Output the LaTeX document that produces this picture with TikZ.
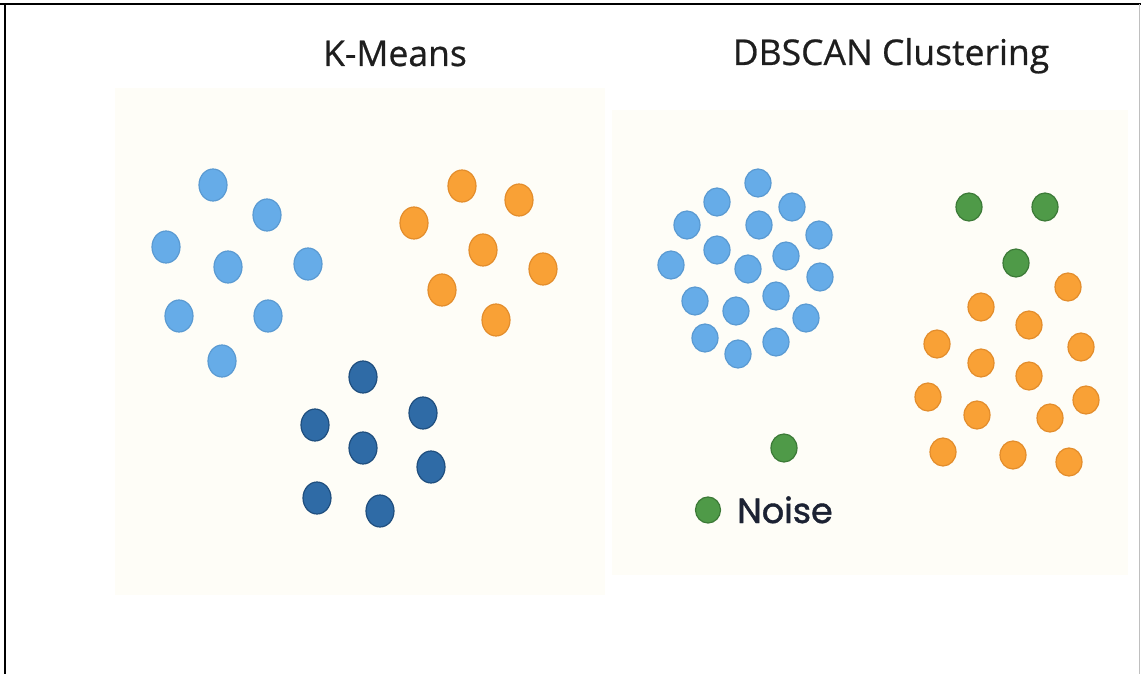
\documentclass[tikz,border=0pt]{standalone}
\usepackage{fontspec}
\setmainfont{Open Sans}[FakeBold=0.6]
\newfontfamily\noisefont{Poppins}[FakeBold=1.2]
\usetikzlibrary{shapes.geometric}
\definecolor{panel}{HTML}{FEFDF7}
\definecolor{lblue}{HTML}{66ACE8}
\definecolor{lblueb}{HTML}{5A9AD2}
\definecolor{dblue}{HTML}{2F6BA6}
\definecolor{dblueb}{HTML}{1F4E7E}
\definecolor{orng}{HTML}{F9A136}
\definecolor{orngb}{HTML}{E38D2C}
\definecolor{grn}{HTML}{4F9A48}
\definecolor{grnb}{HTML}{3C7A37}
\definecolor{titlec}{HTML}{1E1E1E}
\definecolor{noisec}{HTML}{1C2233}
\tikzset{
  dot/.style={ellipse, inner sep=0pt, line width=1.2pt},
  kdot/.style={dot, minimum width=28pt, minimum height=32pt},
  sdot/.style={dot, minimum width=26pt, minimum height=28pt},
  lb/.style={fill=lblue, draw=lblueb},
  db/.style={fill=dblue, draw=dblueb},
  og/.style={fill=orng, draw=orngb},
  gn/.style={fill=grn, draw=grnb},
  title/.style={font=\fontsize{35.5}{38}\selectfont, text=titlec, inner sep=0pt, anchor=base},
}
\begin{document}
\begin{tikzpicture}[x=1pt,y=-1pt]
\useasboundingbox (0,0) rectangle (1141,674);
\fill[white] (0,0) rectangle (1141,674);
% panels
\fill[panel] (115,88) rectangle (605,595);
\fill[panel] (612,110) rectangle (1128,575);
% frame
\draw[line width=2.5pt, black] (0,4) -- (1141,4);
\draw[line width=2pt, black] (5,4) -- (5,674);
\draw[line width=1pt, black!25] (1139,4) -- (1139,674);
% titles
\node[title] (tk) at (395,66) {K-Means};
\node[title] (td) at (891,65) {DBSCAN Clustering};
% K-Means light blue
\foreach \x/\y [count=\i] in {213/185,267/215,166/247,228/267,308/264,179/316,268/316,222/361}
  \node[kdot, lb] (kl\i) at (\x,\y) {};
% K-Means orange
\foreach \x/\y [count=\i] in {462/186,519/200,414/223,483/250,543/269,442/290,496/320}
  \node[kdot, og] (ko\i) at (\x,\y) {};
% K-Means dark blue
\foreach \x/\y [count=\i] in {363/377,423/413,315/425,363/448,431/467,317/498,380/511}
  \node[kdot, db] (kd\i) at (\x,\y) {};
% DBSCAN blue
\foreach \x/\y [count=\i] in {758/183,717/202,792/207,687/225,759/225,819/235,717/250,786/256,671/265,748/269,820/277,695/301,776/296,736/311,806/318,705/338,776/342,738/354}
  \node[sdot, lb] (sb\i) at (\x,\y) {};
% DBSCAN green
\foreach \x/\y [count=\i] in {969/207,1045/207,1016/263,784/448}
  \node[sdot, gn] (sg\i) at (\x,\y) {};
% DBSCAN orange
\foreach \x/\y [count=\i] in {1068/287,981/307,1029/325,937/344,1081/347,981/363,1029/376,928/397,1086/400,977/415,1050/418,943/452,1013/455,1069/462}
  \node[sdot, og] (so\i) at (\x,\y) {};
% legend
\node[dot, gn, minimum width=25pt, minimum height=26pt] (ld) at (708,510) {};
\node[font=\noisefont\fontsize{35}{38}\selectfont, text=noisec, inner sep=0pt, anchor=base west] (lt) at (737,523) {Noise};
\end{tikzpicture}
\end{document}
